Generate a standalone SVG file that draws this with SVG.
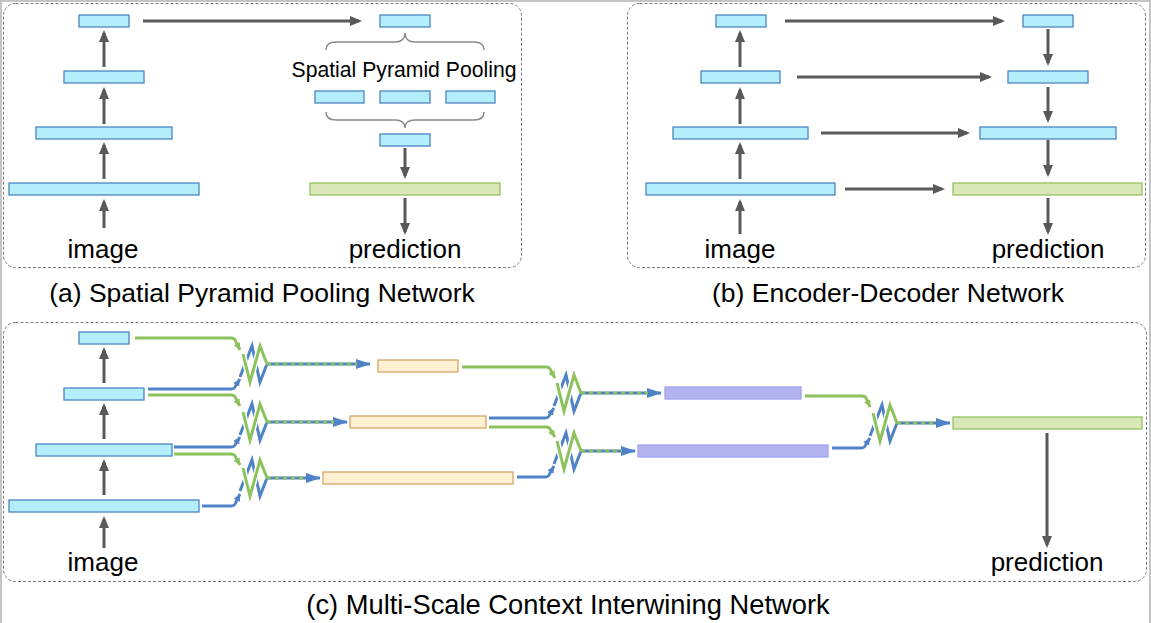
<svg xmlns="http://www.w3.org/2000/svg" width="1151" height="623" viewBox="0 0 1151 623">
<style>
.fb{fill:#b4eefc;stroke:#4a86c2;stroke-width:1.3}
.fg{fill:#d9e7b9;stroke:#94c25e;stroke-width:1.3}
.fo{fill:#fff0d2;stroke:#d4a565;stroke-width:1.3}
.fp{fill:#b3b3ef;stroke:#a3a3f3;stroke-width:1.3}
.box{fill:none;stroke:#7a7a7a;stroke-width:1;stroke-dasharray:3 2}
.ga{fill:none;stroke:#595959;stroke-width:3;marker-end:url(#ah)}
.bl{fill:none;stroke:#4f82c6;stroke-width:3;stroke-linejoin:miter}
.gr{fill:none;stroke:#8cc25c;stroke-width:3;stroke-linejoin:miter}
.bla{fill:none;stroke:#4f82c6;stroke-width:3;marker-end:url(#bh)}
.gra{fill:none;stroke:#8cc25c;stroke-width:3;marker-end:url(#gh)}
.dsh{fill:none;stroke:#8cc25c;stroke-width:3;stroke-dasharray:4 4}
.br{fill:none;stroke:#8a8a8a;stroke-width:1.5}
.t{font-family:"Liberation Sans",Arial,sans-serif;fill:#000;text-anchor:middle}
.lb{font-size:26px}
.cap{font-size:26.5px}
</style>
<defs>
<marker id="ah" markerUnits="userSpaceOnUse" markerWidth="14" markerHeight="12" refX="9" refY="5" orient="auto"><path d="M0,0 L12,5 L0,10 z" fill="#595959"/></marker>
<marker id="bh" markerUnits="userSpaceOnUse" markerWidth="16" markerHeight="12" refX="14" refY="5" orient="auto"><path d="M0,0 L15,5 L0,10 z" fill="#4f82c6"/></marker>
<marker id="sbh" markerUnits="userSpaceOnUse" markerWidth="10" markerHeight="10" refX="7" refY="3.5" orient="auto"><path d="M0,0 L7,3.5 L0,7 z" fill="#4f82c6"/></marker>
<marker id="gh" markerUnits="userSpaceOnUse" markerWidth="10" markerHeight="10" refX="7" refY="3.5" orient="auto"><path d="M0,0 L7,3.5 L0,7 z" fill="#8cc25c"/></marker>
<g id="mix">
<polyline points="1,13 13,-18 21,18 28,0" class="bl"/>
<polyline points="4,-10 11,18 21,-18 28,0" fill="none" stroke="#fff" stroke-width="6"/>
<polyline points="4,-10 11,18 21,-18 28,0" class="gr"/>
</g>
</defs>
<rect width="1151" height="623" fill="#fff"/>
<path d="M1,623 V1 H1150 V623" fill="none" stroke="#c4c4c4" stroke-width="2"/>

<g id="panelA">
<rect class="box" x="3.5" y="3.5" width="518" height="264" rx="12"/>
<g id="a-enc1"><rect class="fb" x="79" y="15" width="50" height="12"/></g>
<g id="a-enc2"><rect class="fb" x="64" y="71" width="80" height="12"/></g>
<g id="a-enc3"><rect class="fb" x="36" y="127" width="136" height="12"/></g>
<g id="a-enc4"><rect class="fb" x="9" y="183" width="190" height="12"/></g>
<g id="a-top"><rect class="fb" x="380" y="15" width="50" height="12"/></g>
<g id="a-p1"><rect class="fb" x="315" y="91" width="49" height="12"/></g>
<g id="a-p2"><rect class="fb" x="380" y="91" width="50" height="12"/></g>
<g id="a-p3"><rect class="fb" x="446" y="91" width="49" height="12"/></g>
<g id="a-mid"><rect class="fb" x="380" y="134" width="50" height="12"/></g>
<g id="a-out"><rect class="fg" x="310" y="183" width="190" height="12"/></g>
<path class="br" d="M326,50 Q326,42 336,42 L395,42 Q405,42 405,33 Q405,42 415,42 L474,42 Q484,42 484,50"/>
<path class="br" d="M326,112 Q326,120 336,120 L395,120 Q405,120 405,128 Q405,120 415,120 L474,120 Q484,120 484,112"/>
<text class="t" x="404" y="77" font-size="21.2">Spatial Pyramid Pooling</text>
<text class="t lb" x="103" y="258">image</text>
<text class="t lb" x="405" y="258">prediction</text>
</g>

<g id="panelB">
<rect class="box" x="627.5" y="3.5" width="518" height="264" rx="12"/>
<g id="b-enc1"><rect class="fb" x="716" y="15" width="50" height="12"/></g>
<g id="b-enc2"><rect class="fb" x="701" y="71" width="79" height="12"/></g>
<g id="b-enc3"><rect class="fb" x="673" y="127" width="135" height="12"/></g>
<g id="b-enc4"><rect class="fb" x="646" y="183" width="189" height="12"/></g>
<g id="b-dec1"><rect class="fb" x="1023" y="15" width="50" height="12"/></g>
<g id="b-dec2"><rect class="fb" x="1008" y="71" width="80" height="12"/></g>
<g id="b-dec3"><rect class="fb" x="980" y="127" width="136" height="12"/></g>
<g id="b-out"><rect class="fg" x="953" y="183" width="189" height="12"/></g>
<text class="t lb" x="740" y="258">image</text>
<text class="t lb" x="1048" y="258">prediction</text>
</g>

<g id="panelC">
<rect class="box" x="3.5" y="322.5" width="1143" height="259" rx="12"/>
<g id="c-enc1"><rect class="fb" x="79" y="332" width="50" height="12"/></g>
<g id="c-enc2"><rect class="fb" x="64" y="388" width="80" height="12"/></g>
<g id="c-enc3"><rect class="fb" x="36" y="444" width="136" height="12"/></g>
<g id="c-enc4"><rect class="fb" x="9" y="500" width="190" height="12"/></g>
<g id="c-o1"><rect class="fo" x="378" y="360" width="80" height="12"/></g>
<g id="c-o2"><rect class="fo" x="350" y="416" width="136" height="12"/></g>
<g id="c-o3"><rect class="fo" x="323" y="472" width="190" height="12"/></g>
<g id="c-p1"><rect class="fp" x="665" y="387" width="136" height="12"/></g>
<g id="c-p2"><rect class="fp" x="638" y="445" width="190" height="12"/></g>
<g id="c-out"><rect class="fg" x="953" y="417" width="189" height="12"/></g>
<g id="mix1a"><use href="#mix" x="239" y="364"/></g>
<g id="mix1b"><use href="#mix" x="239" y="422"/></g>
<g id="mix1c"><use href="#mix" x="239" y="478"/></g>
<g id="mix2a"><use href="#mix" x="553" y="393"/></g>
<g id="mix2b"><use href="#mix" x="553" y="451"/></g>
<g id="mix3"><use href="#mix" x="869" y="423"/></g>
<text class="t lb" x="103" y="571">image</text>
<text class="t lb" x="1047" y="571">prediction</text>
</g>

<g id="connectors">
<line class="ga" x1="104" y1="67" x2="104" y2="33"/>
<line class="ga" x1="104" y1="124" x2="104" y2="90"/>
<line class="ga" x1="104" y1="179" x2="104" y2="145"/>
<line class="ga" x1="104" y1="228" x2="104" y2="202"/>
<line class="ga" x1="143" y1="21" x2="359" y2="21"/>
<line class="ga" x1="405" y1="148" x2="405" y2="176"/>
<line class="ga" x1="405" y1="198" x2="405" y2="232"/>
<line class="ga" x1="740" y1="67" x2="740" y2="33"/>
<line class="ga" x1="740" y1="124" x2="740" y2="90"/>
<line class="ga" x1="740" y1="179" x2="740" y2="145"/>
<line class="ga" x1="740" y1="234" x2="740" y2="202"/>
<line class="ga" x1="1048" y1="29" x2="1048" y2="63"/>
<line class="ga" x1="1048" y1="87" x2="1048" y2="120"/>
<line class="ga" x1="1048" y1="140" x2="1048" y2="174"/>
<line class="ga" x1="1048" y1="198" x2="1048" y2="232"/>
<line class="ga" x1="785" y1="21" x2="1002" y2="21"/>
<line class="ga" x1="797" y1="77" x2="989" y2="77"/>
<line class="ga" x1="821" y1="133" x2="967" y2="133"/>
<line class="ga" x1="845" y1="189" x2="942" y2="189"/>
<line class="ga" x1="104" y1="383" x2="104" y2="350"/>
<line class="ga" x1="104" y1="439" x2="104" y2="406"/>
<line class="ga" x1="104" y1="495" x2="104" y2="462"/>
<line class="ga" x1="104" y1="548" x2="104" y2="519"/>
<line class="ga" x1="1047" y1="433" x2="1047" y2="545"/>
<path class="gra" d="M135,338 H231 Q235,338 236,342 L240,350"/>
<path class="bla" style="marker-end:url(#sbh)" d="M148,389 H231 Q235,389 236,385 L240,379"/>
<path class="gra" d="M148,395 H231 Q235,395 236,399 L240,406"/>
<path class="bla" style="marker-end:url(#sbh)" d="M174,447 H231 Q235,447 236,443 L240,437"/>
<path class="gra" d="M174,454 H231 Q235,454 236,458 L240,465"/>
<path class="bla" style="marker-end:url(#sbh)" d="M202,506 H231 Q235,506 236,502 L240,494"/>
<path class="gra" d="M462,367 H546 Q550,367 551,371 L555,378"/>
<path class="bla" style="marker-end:url(#sbh)" d="M489,418 H545 Q549,418 550,414 L554,408"/>
<path class="gra" d="M489,427 H546 Q550,427 551,431 L555,437"/>
<path class="bla" style="marker-end:url(#sbh)" d="M517,477 H545 Q549,477 550,473 L554,466"/>
<path class="gra" d="M805,396 H862 Q866,396 867,400 L870,407"/>
<path class="bla" style="marker-end:url(#sbh)" d="M832,448 H861 Q865,448 866,444 L870,438"/>
<line class="bla" x1="267" y1="364" x2="370" y2="364"/><line class="dsh" x1="267" y1="364" x2="357" y2="364"/>
<line class="bla" x1="267" y1="422" x2="347" y2="422"/><line class="dsh" x1="267" y1="422" x2="334" y2="422"/>
<line class="bla" x1="267" y1="478" x2="320" y2="478"/><line class="dsh" x1="267" y1="478" x2="307" y2="478"/>
<line class="bla" x1="581" y1="393" x2="661" y2="393"/><line class="dsh" x1="581" y1="393" x2="648" y2="393"/>
<line class="bla" x1="581" y1="451" x2="635" y2="451"/><line class="dsh" x1="581" y1="451" x2="622" y2="451"/>
<line class="bla" x1="897" y1="423" x2="950" y2="423"/><line class="dsh" x1="897" y1="423" x2="937" y2="423"/>
</g>

<g id="captions">
<text class="t cap" x="262" y="302">(a) Spatial Pyramid Pooling Network</text>
<text class="t cap" x="888" y="302">(b) Encoder-Decoder Network</text>
<text class="t" x="568" y="614" font-size="27.3">(c) Multi-Scale Context Interwining Network</text>
</g>
</svg>
